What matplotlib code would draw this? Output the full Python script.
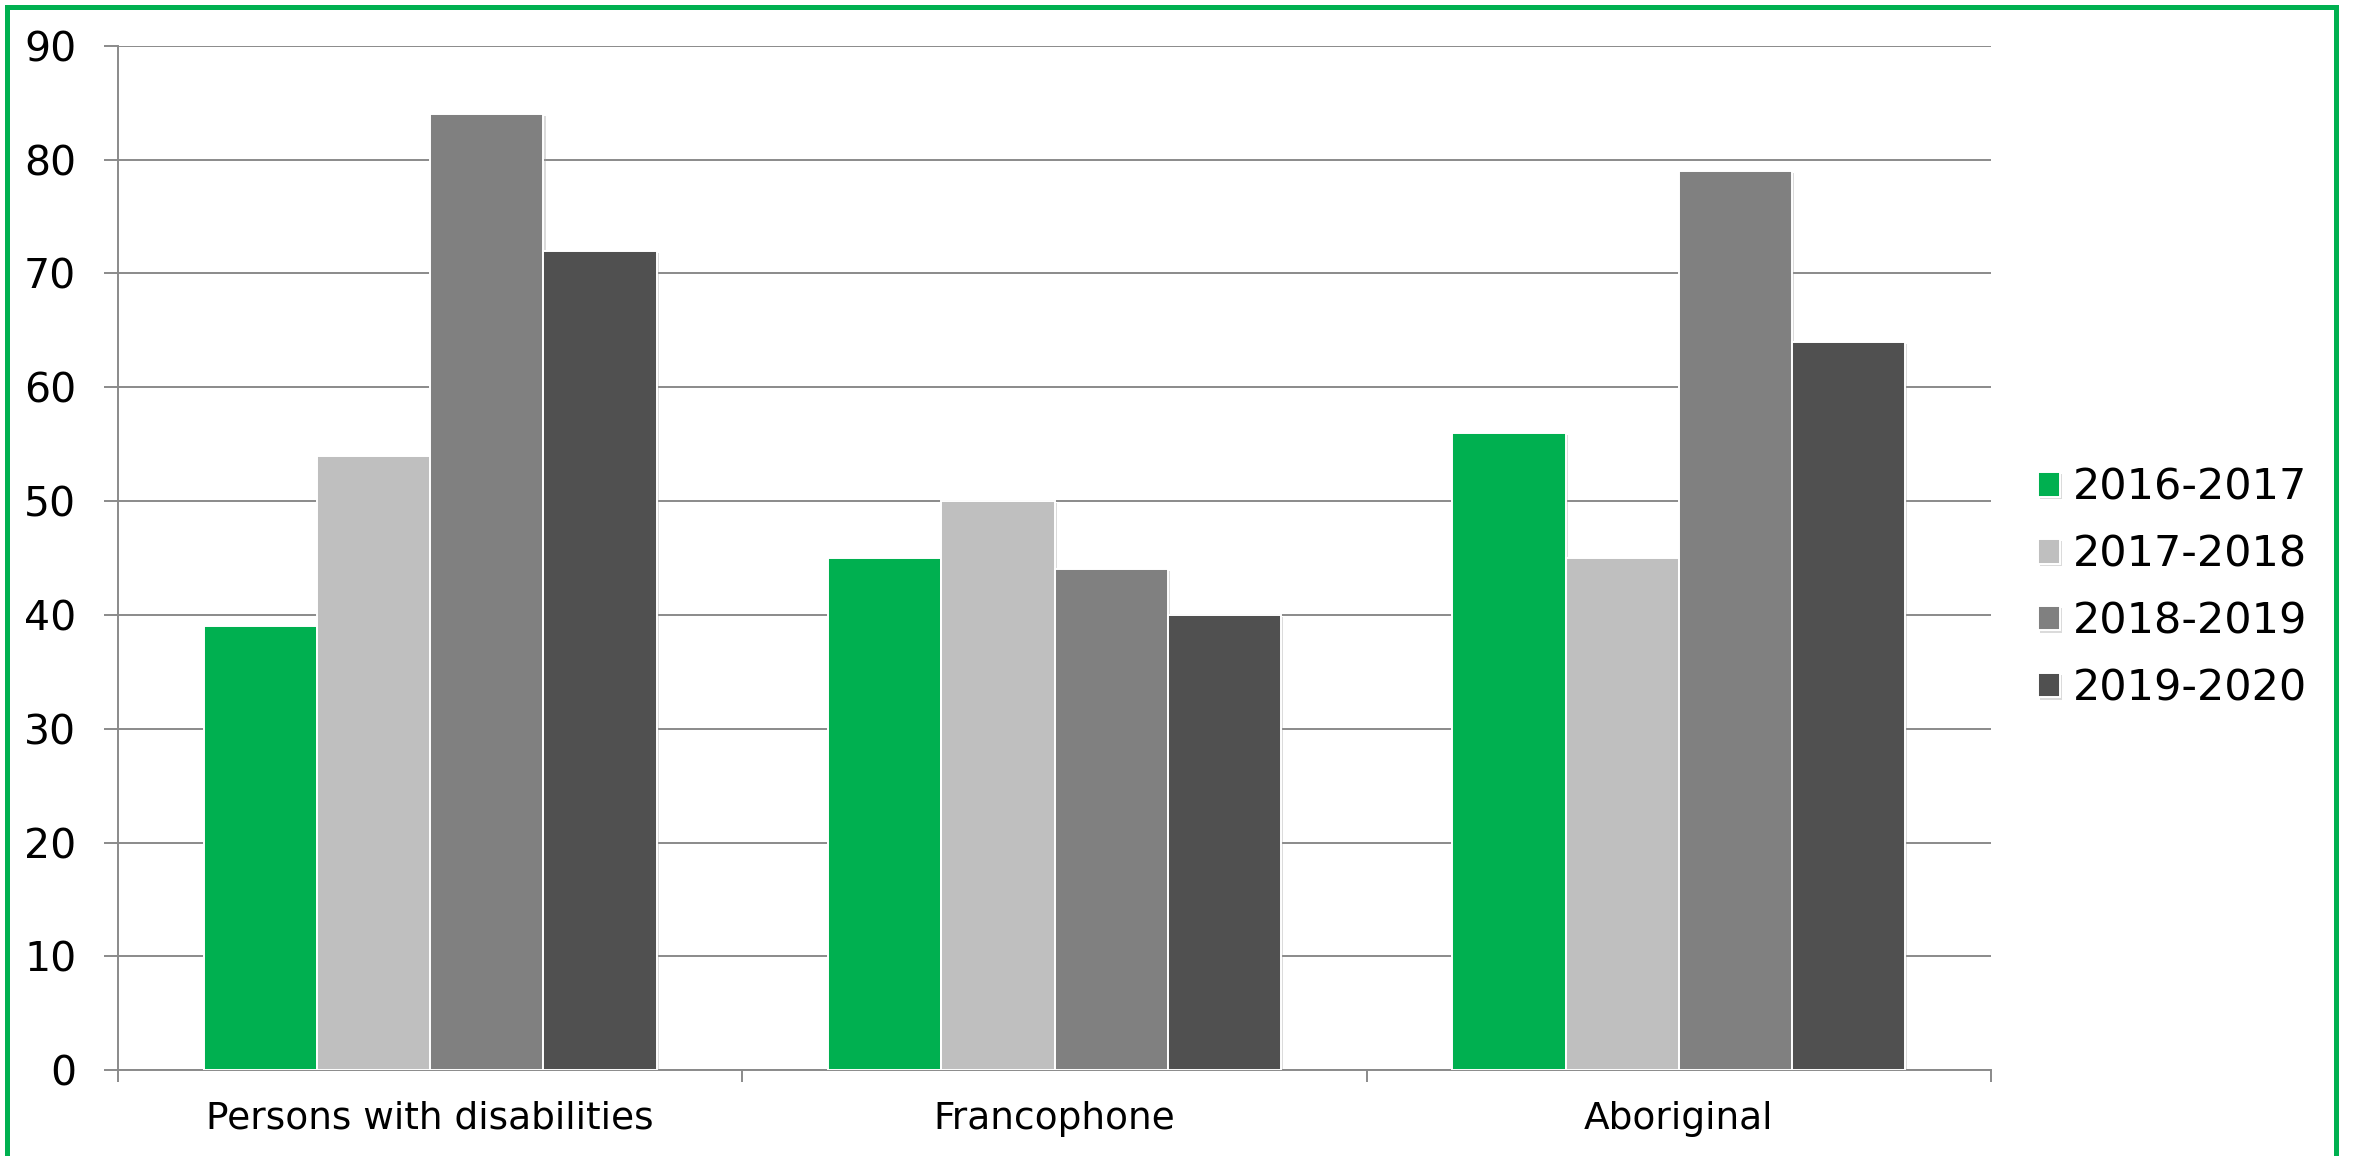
import numpy as np
import matplotlib.pyplot as plt
from matplotlib.patches import Rectangle
import matplotlib.patheffects as pe

# data
categories = ['Persons with disabilities', 'Francophone', 'Aboriginal']
years = ['2016-2017', '2017-2018', '2018-2019', '2019-2020']
v_2016 = [39, 45, 56]
v_2017 = [54, 50, 45]
v_2018 = [84, 44, 79]
v_2019 = [72, 40, 64]
series = [v_2016, v_2017, v_2018, v_2019]
colors = ['#00B050', '#BFBFBF', '#808080', '#505050']

W, H = 2353, 1156
fig = plt.figure(figsize=(W / 100, H / 100), dpi=100)
ax = fig.add_axes([118 / W, (H - 1070.3) / H, (1991 - 118) / W, (1070.3 - 45.7) / H])

x = np.arange(len(categories))
bw = 0.1814
shadow = [pe.SimplePatchShadow(offset=(1.5, -1.5), shadow_rgbFace='#999999', alpha=0.35), pe.Normal()]
for i, (vals, col, lab) in enumerate(zip(series, colors, years)):
    bars = ax.bar(x + (i - 1.5) * bw, vals, width=bw, color=col, edgecolor='white',
                  linewidth=1.4, label=lab, zorder=3)
    for b in bars:
        b.set_path_effects(shadow)

grid_col = '#8A8A8A'
ax.set_xlim(-0.5, 2.5)
ax.set_ylim(0, 90)
ax.set_yticks(range(0, 91, 10))
ax.yaxis.grid(True, color=grid_col, linewidth=1.4)
ax.set_axisbelow(True)

ax.set_xticks(x)
ax.set_xticklabels(categories)
ax.set_xticks([-0.5, 0.5, 1.5, 2.5], minor=True)
ax.tick_params(axis='x', which='major', length=0, pad=22, labelsize=27)
ax.tick_params(axis='x', which='minor', length=8.6, width=1.4, color=grid_col)
ax.tick_params(axis='y', length=10, width=1.4, color=grid_col, pad=20, labelsize=29.5)

for s in ['top', 'right']:
    ax.spines[s].set_visible(False)
for s in ['left', 'bottom']:
    ax.spines[s].set_color(grid_col)
    ax.spines[s].set_linewidth(1.4)

ax.legend(loc='center left', bbox_to_anchor=(2038 / W, 1 - 588 / H),
          bbox_transform=fig.transFigure, frameon=False, fontsize=31,
          borderpad=0, borderaxespad=0, handlelength=0.5, handleheight=0.5,
          handletextpad=0.3, labelspacing=0.58)

# green frame around the chart
fig.patches.append(Rectangle((6.5 / W, -2 / H), (2335.5 - 6.5) / W, (H - 6.5 + 2) / H,
                             transform=fig.transFigure, fill=False,
                             edgecolor='#00B050', linewidth=3.6))

fig.savefig('out.png', dpi=100)
